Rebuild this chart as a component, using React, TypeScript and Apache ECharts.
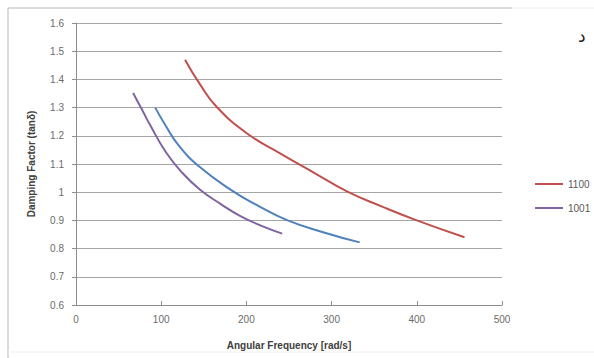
import React, { useEffect, useRef } from "react";
import * as echarts from "echarts";

const red1100: [number, number][] = [
  [128, 1.47], [145, 1.385], [165, 1.303], [200, 1.21], [240, 1.137], [280, 1.068],
  [318, 1.003], [360, 0.948], [400, 0.9], [456, 0.84],
];
const blueSeries: [number, number][] = [
  [93, 1.3], [106, 1.232], [120, 1.168], [145, 1.09], [185, 1.002], [215, 0.95],
  [247, 0.902], [290, 0.858], [333, 0.822],
];
const purple1001: [number, number][] = [
  [67, 1.352], [78, 1.29], [87, 1.238], [106, 1.14], [125, 1.068], [146, 1.008],
  [170, 0.958], [193, 0.915], [220, 0.878], [242, 0.853],
];
const legendNames = ["1100", "1001"];

const FONT = "'Liberation Sans', Arial, sans-serif";

export default function App() {
  const ref = useRef<HTMLDivElement>(null);
  useEffect(() => {
    if (!ref.current) return;
    const chart = echarts.init(ref.current, undefined, { renderer: "svg" });
    const lineStyleFor = (c: string) => ({ color: c, width: 2 });
    chart.setOption({
      animation: false,
      backgroundColor: "#ffffff",
      grid: { left: 76, right: 92, top: 23, bottom: 53 },
      legend: {
        data: legendNames,
        orient: "vertical",
        left: 530,
        top: 174,
        itemWidth: 28,
        itemHeight: 2,
        itemGap: 14,
        icon: "rect",
        textStyle: { fontFamily: FONT, fontSize: 10, color: "#595959" },
      },
      xAxis: {
        type: "value",
        min: 0,
        max: 500,
        interval: 100,
        name: "Angular Frequency [rad/s]",
        nameLocation: "middle",
        nameGap: 35,
        nameTextStyle: { fontFamily: FONT, fontSize: 10, fontWeight: "bold", color: "#404040" },
        axisLine: { show: true, lineStyle: { color: "#8c8c8c", width: 1 } },
        axisTick: { show: true, inside: true, length: 4, lineStyle: { color: "#8c8c8c" } },
        axisLabel: { fontFamily: FONT, fontSize: 10, color: "#6b6b6b", margin: 9 },
        splitLine: { show: false },
      },
      yAxis: {
        type: "value",
        min: 0.6,
        max: 1.6,
        interval: 0.1,
        name: "Damping Factor (tanδ)",
        nameLocation: "middle",
        nameGap: 40,
        nameRotate: 90,
        nameTextStyle: { fontFamily: FONT, fontSize: 10, fontWeight: "bold", color: "#404040" },
        axisLine: { show: true, lineStyle: { color: "#8c8c8c", width: 1 } },
        axisTick: { show: true, inside: false, length: 4, lineStyle: { color: "#8c8c8c" } },
        axisLabel: {
          fontFamily: FONT,
          fontSize: 10,
          color: "#6b6b6b",
          margin: 12,
          formatter: (v: number) => {
            const r = Math.round(v * 10) / 10;
            return r === 1 ? "1" : r.toFixed(1);
          },
        },
        splitLine: { show: true, lineStyle: { color: "#a6a6a6", width: 1 } },
      },
      series: [
        { name: "1100", type: "line", data: red1100, smooth: 0.5, showSymbol: false, lineStyle: lineStyleFor("#c0504d"), itemStyle: { color: "#c0504d" } },
        { name: "1010", type: "line", data: blueSeries, smooth: 0.5, showSymbol: false, lineStyle: lineStyleFor("#4f81bd"), itemStyle: { color: "#4f81bd" } },
        { name: "1001", type: "line", data: purple1001, smooth: 0.5, showSymbol: false, lineStyle: lineStyleFor("#8064a2"), itemStyle: { color: "#8064a2" } },
      ],
      graphic: [
        { type: "line", shape: { x1: 8, y1: 8, x2: 8, y2: 358 }, style: { stroke: "#b8b8b8", lineWidth: 1 } },
        { type: "line", shape: { x1: 8, y1: 8, x2: 512, y2: 8 }, style: { stroke: "#b8b8b8", lineWidth: 1 } },
        { type: "line", shape: { x1: 512, y1: 8, x2: 594, y2: 8 }, style: { stroke: "#f0f0f0", lineWidth: 1 } },
        { type: "line", shape: { x1: 8, y1: 352, x2: 594, y2: 352 }, style: { stroke: "#f0f0f0", lineWidth: 1 } },
        { type: "text", x: 578, y: 27, style: { text: "د", fontFamily: "'DejaVu Sans', sans-serif", fontSize: 17, fill: "#222" } },
      ],
    });
    return () => chart.dispose();
  }, []);
  return <div ref={ref} style={{ width: 594, height: 358, position: "absolute", left: 0, top: 0 }} />;
}
